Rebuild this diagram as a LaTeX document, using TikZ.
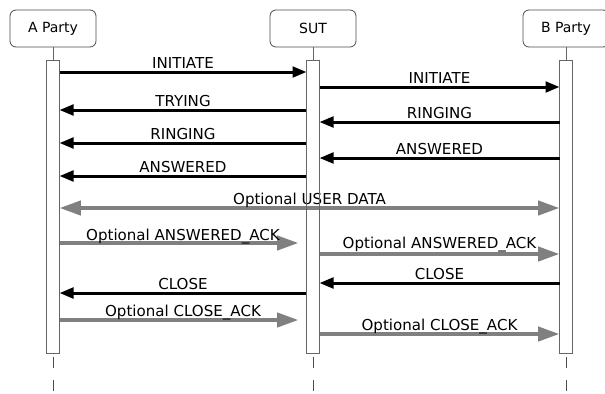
\documentclass[tikz,border=0pt]{standalone}
\usepackage{fontspec}
\setmainfont{DejaVu Sans}
\usetikzlibrary{positioning,arrows.meta}

\tikzset{
  party/.style={draw=black!70, fill=white, rounded corners=4.5pt, minimum width=64.5pt,
    minimum height=27.75pt, line width=0.6pt, font=\fontsize{10.5}{12}\selectfont},
  bar/.style={draw=black!60, fill=white, minimum width=9.75pt, minimum height=219.75pt,
    inner sep=0pt, outer sep=0pt, line width=0.6pt},
  stub/.style={draw=black!60, line width=0.6pt},
  tail/.style={draw=black!70, line width=0.6pt, dash pattern=on 8.25pt off 9pt},
  msg/.style={line width=2.25pt, -{Triangle[length=10.5pt,width=8pt]}},
  opt/.style={line width=3pt, draw=black!50, -{Triangle[length=16pt,width=10.5pt]}},
  optboth/.style={line width=3pt, draw=black!50,
    {Triangle[length=16pt,width=10.5pt]}-{Triangle[length=16pt,width=10.5pt]}},
  lbl/.style={midway, anchor=base, yshift=3pt, inner sep=0pt, font=\fontsize{11.3}{13}\selectfont}
}

\begin{document}
\begin{tikzpicture}[x=0.75pt, y=-0.75pt]
        \useasboundingbox (0,0) rectangle (605,393);
        % parties
        \node[party] (pa) at (53,28.5) {A Party};
        \node[party] (ps) at (313,28.5) {SUT};
        \node[party] (pb) at (566,28.5) {B Party};
        % activation bars
        \node[bar, below=9.75pt of pa] (a) {};
        \node[bar, below=9.75pt of ps] (s) {};
        \node[bar, below=9.75pt of pb] (b) {};
        \draw[stub] (pa) -- (a);
        \draw[stub] (ps) -- (s);
        \draw[stub] (pb) -- (b);
        % set up
        \draw[msg] (a.east |- 0,72) -- (s.west |- 0,72) node[lbl] (m1) {INITIATE};
        \draw[msg] (s.east |- 0,87) -- (b.west |- 0,87) node[lbl] (m2) {INITIATE};
        \draw[msg] (s.west |- 0,110) -- (a.east |- 0,110) node[lbl] (m3) {TRYING};
        \draw[msg] (b.west |- 0,122) -- (s.east |- 0,122) node[lbl] (m4) {RINGING};
        \draw[msg] (s.west |- 0,143) -- (a.east |- 0,143) node[lbl] (m5) {RINGING};
        \draw[msg] (b.west |- 0,158) -- (s.east |- 0,158) node[lbl] (m6) {ANSWERED};
        \draw[msg] (s.west |- 0,176) -- (a.east |- 0,176) node[lbl] (m7) {ANSWERED};
        % optional messages
        \draw[optboth] (a.east |- 0,208) -- (b.west |- 0,208) node[lbl] (m8) {Optional USER DATA};
        \draw[opt, shorten >=6pt] (a.east |- 0,243) -- (s.west |- 0,243) node[lbl, yshift=-1pt] (m9) {Optional ANSWERED\_ACK};
        \draw[opt] (s.east |- 0,254) -- (b.west |- 0,254) node[lbl, yshift=1pt] (m10) {Optional ANSWERED\_ACK};
        % tear down
        \draw[msg] (b.west |- 0,283) -- (s.east |- 0,283) node[lbl] (m11) {CLOSE};
        \draw[msg] (s.west |- 0,293) -- (a.east |- 0,293) node[lbl] (m12) {CLOSE};
        \draw[opt, shorten >=6pt] (a.east |- 0,320) -- (s.west |- 0,320) node[lbl] (m13) {Optional CLOSE\_ACK};
        \draw[opt] (s.east |- 0,334) -- (b.west |- 0,334) node[lbl, yshift=-0.5pt] (m14) {Optional CLOSE\_ACK};
        \draw[draw=black!60, line width=0.6pt] (s.north west) -- (s.south west) (s.north east) -- (s.south east);
        % lifelines below
        \draw[tail] ([yshift=-3pt]a.south) -- (a.south |- 0,393);
        \draw[tail] ([yshift=-3pt]s.south) -- (s.south |- 0,393);
        \draw[tail] ([yshift=-3pt]b.south) -- (b.south |- 0,393);
\end{tikzpicture}
\end{document}
